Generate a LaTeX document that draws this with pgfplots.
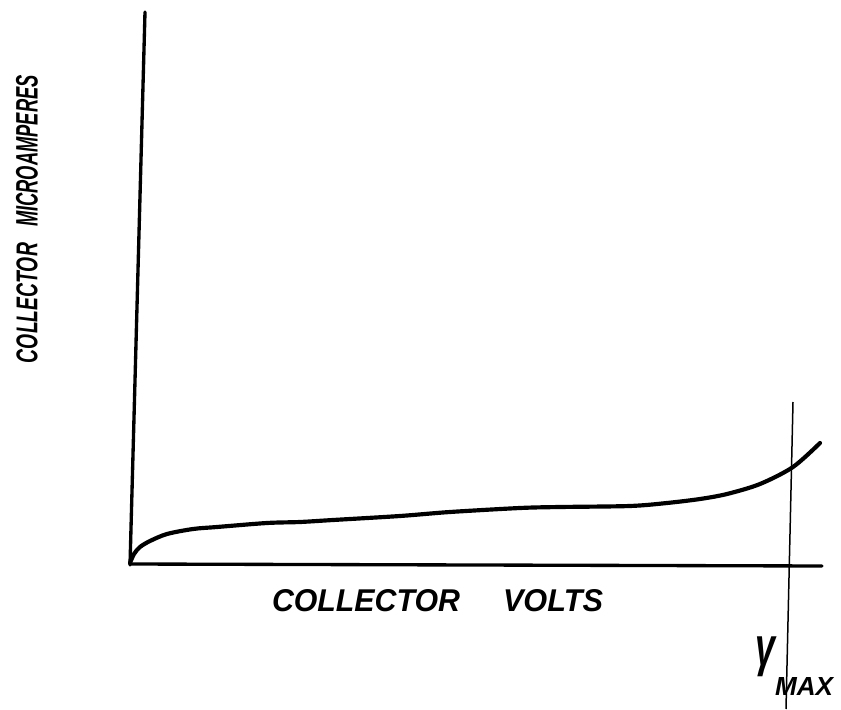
\documentclass[border=0pt]{standalone}
\usepackage{pgfplots}
\pgfplotsset{compat=1.18}
\usepackage{fontspec}
\setmainfont{Liberation Sans}
\usepackage{graphicx}
\begin{document}
\begin{tikzpicture}
\begin{axis}[
  scale only axis,
  width=252.3pt, height=212.7pt,
  xmin=-130, xmax=711, ymin=-144, ymax=565,
  axis lines=none, ticks=none, clip=false,
]
% y axis (hand drawn, slightly tilted)
\addplot[black, line width=1pt, line cap=round] coordinates {(0,0) (15,553)};
% x axis
\addplot[black, line width=1pt, line cap=round] coordinates {(0,1) (692,-1)};
% V max line
\addplot[black, line width=0.45pt] coordinates {(663,163) (656,-144)};
% characteristic curve
\addplot[black, line width=1.25pt, smooth, line cap=round] coordinates {
(0,2) (4,11) (10,18) (20,24) (37,31) (63,36) (87,38) (137,42) (170,43)
(203,45) (270,49) (320,53) (390,57) (430,58) (500,59) (537,62) (570,66)
(597,71) (630,81) (663,98) (690,122)};
% labels
\node at (axis cs:236,-36) {\resizebox{56.4pt}{6.6pt}{\bfseries\itshape COLLECTOR}};
\node at (axis cs:423,-36) {\resizebox{30pt}{6.6pt}{\bfseries\itshape VOLTS}};
\node[rotate=90] at (axis cs:-103,262) {\resizebox{36pt}{6.3pt}{\bfseries\itshape COLLECTOR}};
\node[rotate=90] at (axis cs:-103,414) {\resizebox{45.6pt}{6.5pt}{\bfseries\itshape MICROAMPERES}};
\node at (axis cs:635,-92) {\resizebox*{6pt}{12pt}{\bfseries\itshape γ}};
\node at (axis cs:674,-121) {\resizebox{17.4pt}{5.4pt}{\bfseries\itshape MAX}};
\end{axis}
\pgfresetboundingbox
\useasboundingbox (current axis.south west) rectangle (current axis.north east);
\end{tikzpicture}
\end{document}
